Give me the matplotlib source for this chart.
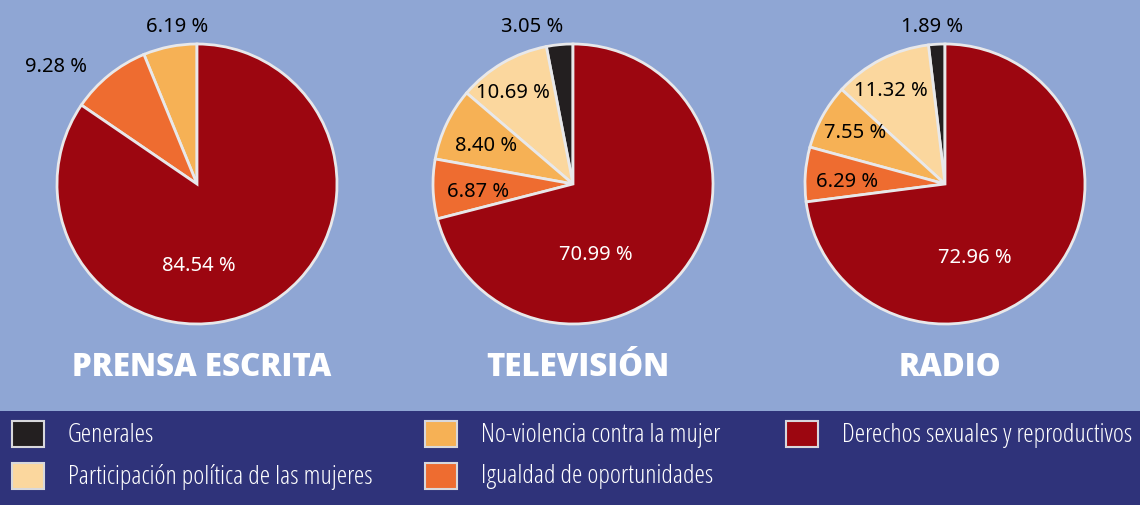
import matplotlib
matplotlib.use("Agg")
import matplotlib.pyplot as plt
from matplotlib.patches import Rectangle

# ── data ─────────────────────────────────────────────────────────────
categories = ["Generales",
              "Participación política de las mujeres",
              "No-violencia contra la mujer",
              "Igualdad de oportunidades",
              "Derechos sexuales y reproductivos"]
colors = ["#231f20", "#fbd79e", "#f6b155", "#ee6c30", "#9c0610"]
media = ["PRENSA ESCRITA", "TELEVISIÓN", "RADIO"]
prensa = [0.0, 0.0, 6.19, 9.28, 84.54]
television = [3.05, 10.69, 8.40, 6.87, 70.99]
radio = [1.89, 11.32, 7.55, 6.29, 72.96]
series = [prensa, television, radio]

# label offsets (units of pie radius) per slice, None = no label
label_pos = [
    [None, None, (-0.14, 1.13), (-1.01, 0.84), (0.01, -0.58)],
    [(-0.29, 1.13), (-0.43, 0.66), (-0.62, 0.28), (-0.68, -0.05), (0.16, -0.50)],
    [(-0.09, 1.13), (-0.39, 0.67), (-0.64, 0.37), (-0.70, 0.02), (0.21, -0.52)],
]

W, H = 1140, 506
BG = "#8fa6d4"
NAVY = "#2f337a"
EDGE = "#e8e8ea"
centers_x = [197, 573, 945]
CY, R = 185, 140
S = 175  # half-size of each pie axes in px

plt.rcParams["font.family"] = ["Noto Sans", "DejaVu Sans"]
NARROW = ["Open Sans", "DejaVu Sans"]

fig = plt.figure(figsize=(W / 100, H / 100), dpi=100, facecolor=BG)

# navy band behind the legend
fig.add_artist(Rectangle((0, 0), 1, 94 / H, transform=fig.transFigure,
                         facecolor=NAVY, edgecolor="none", zorder=0))

for cx, vals, labs, name in zip(centers_x, series, label_pos, media):
    ax = fig.add_axes([(cx - S) / W, (H - CY - S) / H, 2 * S / W, 2 * S / H])
    wedges, _ = ax.pie(vals, colors=colors, startangle=90, counterclock=True,
                       radius=1.0,
                       wedgeprops=dict(edgecolor=EDGE, linewidth=2.0))
    lim = S / R
    ax.set_xlim(-lim, lim)
    ax.set_ylim(-lim, lim)
    ax.set_aspect("equal")
    ax.axis("off")
    for v, pos, col in zip(vals, labs, colors):
        if pos is None:
            continue
        tc = "white" if col == colors[-1] else "black"
        ax.text(pos[0], pos[1], f"{v:.2f} %", ha="center", va="center",
                fontsize=14.5, color=tc)
    fig.text(cx / W + 0.004, 1 - 368 / H, name, ha="center", va="center",
             fontsize=22.5, fontweight="heavy", color="white", family=NARROW)

# ── legend (manual, three columns) ───────────────────────────────────
col_x = [12, 425, 786]
row_y = [435, 477]
slots = [(0, 0), (0, 1), (1, 0), (1, 1), (2, 0)]
for cat, col, (ci, ri) in zip(categories, colors, slots):
    bx, by = col_x[ci], row_y[ri]
    fig.add_artist(Rectangle((bx / W, (H - by - 13) / H), 32 / W, 26 / H,
                             transform=fig.transFigure, facecolor=col,
                             edgecolor="#d8d8dc", linewidth=1.5, zorder=2))
    fig.text((bx + 56) / W, 1 - by / H, cat, ha="left", va="center",
             fontsize=19, fontweight="normal", fontstretch="condensed",
             color="white", family=NARROW)

fig.savefig("out.png", dpi=100, facecolor=BG)
